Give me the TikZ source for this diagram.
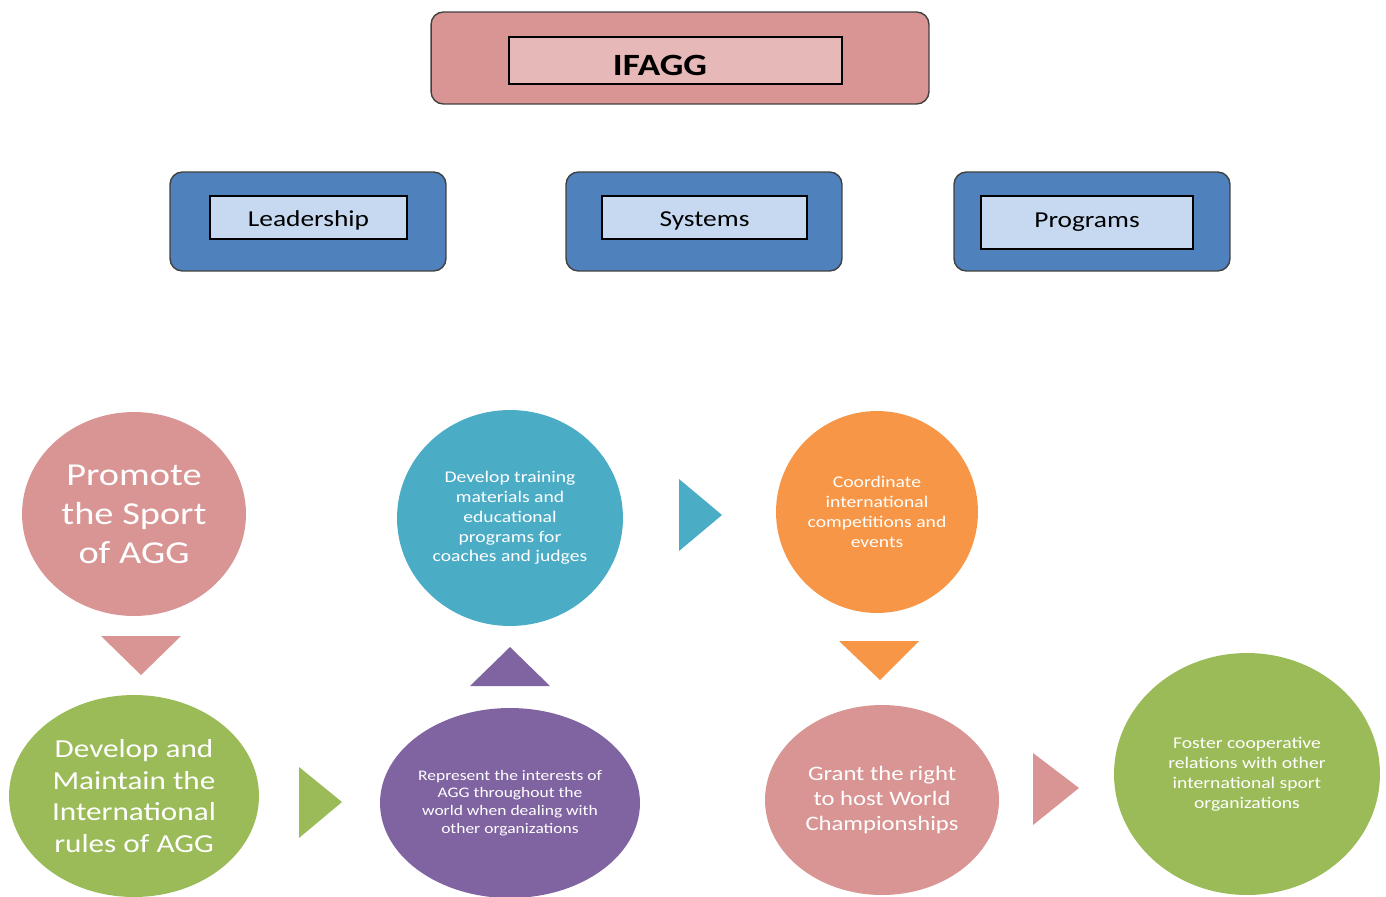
\documentclass[tikz,border=0pt]{standalone}
\usepackage{fontspec}
\setmainfont{Carlito}[FakeStretch=1.2]
\usetikzlibrary{shapes.geometric}

\definecolor{rosefill}{HTML}{D99594}
\definecolor{roselight}{HTML}{E6B8B7}
\definecolor{bluefill}{HTML}{4F81BD}
\definecolor{bluelight}{HTML}{C6D9F1}
\definecolor{leaf}{HTML}{9BBB59}
\definecolor{aqua}{HTML}{4BACC6}
\definecolor{amber}{HTML}{F79646}
\definecolor{plum}{HTML}{8064A2}

\newcommand{\fsz}[2]{\fontsize{#1}{#2}\selectfont}

\tikzset{
  outerbox/.style={draw=black!75, line width=0.8pt, rounded corners=7pt},
  innerbox/.style={draw=black, line width=1.1pt, inner sep=0pt, text height=1.1em, text depth=0.1em},
  bubble/.style={ellipse, inner sep=0pt, text=white, align=center},
}

\begin{document}
\begin{tikzpicture}[x=0.02cm, y=-0.02cm]
  \useasboundingbox (0,0) rectangle (1386,896);

  % top box
  \node[outerbox, fill=rosefill, minimum width=9.96cm, minimum height=1.84cm] (top) at (680,58) {};
  \node[innerbox, fill=roselight, minimum width=6.66cm, minimum height=0.94cm] (topin) at (675.5,60.5) {};
  \node[font=\fsz{17.6}{21}\bfseries] (ifagg) at (660,65.5) {IFAGG};

  % second row
  \node[outerbox, fill=bluefill, minimum width=5.52cm, minimum height=1.98cm] (lead) at (308,221.5) {};
  \node[innerbox, fill=bluelight, minimum width=3.94cm, minimum height=0.86cm, font=\fsz{13}{16}] (leadin) at (308.5,217.5) {Leadership};
  \node[outerbox, fill=bluefill, minimum width=5.52cm, minimum height=1.98cm] (sys) at (704,221.5) {};
  \node[innerbox, fill=bluelight, minimum width=4.10cm, minimum height=0.86cm, font=\fsz{13}{16}] (sysin) at (704.5,217.5) {Systems};
  \node[outerbox, fill=bluefill, minimum width=5.52cm, minimum height=1.98cm] (prog) at (1092,221.5) {};
  \node[innerbox, fill=bluelight, minimum width=4.24cm, minimum height=1.06cm, font=\fsz{13}{16},
    text height=0.8em, text depth=0.2em] (progin) at (1087,222.5) {Programs};

  % circles
  \node[bubble, fill=rosefill, minimum width=4.48cm, minimum height=4.08cm, font=\fsz{18.2}{22.2}] (promote) at (134,514)
    {Promote\\the Sport\\of AGG};
  \node[bubble, fill=leaf, minimum width=5.0cm, minimum height=4.04cm, font=\fsz{14.8}{18.1}] (rules) at (134,796)
    {Develop and\\Maintain the\\International\\rules of AGG};
  \node[bubble, fill=plum, minimum width=5.2cm, minimum height=3.8cm, font=\fsz{8.3}{10.1}] (represent) at (510,803)
    {Represent the interests of\\AGG throughout the\\world when dealing with\\other organizations};
  \node[bubble, fill=aqua, minimum width=4.52cm, minimum height=4.32cm, font=\fsz{9.3}{11.3}] (training) at (510,518)
    {Develop training\\materials and\\educational\\programs for\\coaches and judges};
  \node[bubble, fill=amber, minimum width=4.04cm, minimum height=4.04cm, font=\fsz{9.3}{11.3}] (events) at (877,512)
    {Coordinate\\international\\competitions and\\events};
  \node[bubble, fill=rosefill, minimum width=4.68cm, minimum height=3.8cm, font=\fsz{11.7}{14.2}] (host) at (882,800)
    {Grant the right\\to host World\\Championships};
  \node[bubble, fill=leaf, minimum width=5.32cm, minimum height=4.84cm, font=\fsz{9.3}{11.3}] (foster) at (1247,774)
    {Foster cooperative\\relations with other\\international sport\\organizations};

  % triangles
  \fill[rosefill] (101,636) -- (181,636) -- (141,675) -- cycle;
  \fill[leaf] (299,767) -- (342,802) -- (299,838) -- cycle;
  \fill[plum] (470,686) -- (550,686) -- (510,647) -- cycle;
  \fill[aqua] (679,479) -- (722,515) -- (679,551) -- cycle;
  \fill[amber] (839,641) -- (919,641) -- (880,680) -- cycle;
  \fill[rosefill] (1033,753) -- (1079,788) -- (1033,825) -- cycle;
\end{tikzpicture}
\end{document}
